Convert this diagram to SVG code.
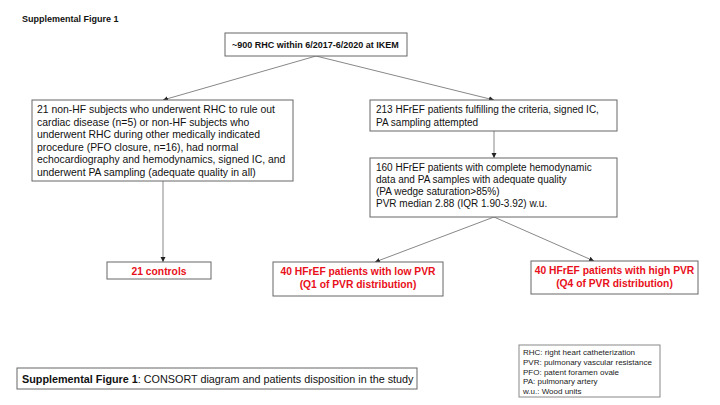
<svg xmlns="http://www.w3.org/2000/svg" width="720" height="405" viewBox="0 0 720 405">
<defs>
<style>
.box{fill:#fff;stroke:#666;stroke-width:1}
.t{font-family:"Liberation Sans",Arial,sans-serif;font-size:10px;fill:#111}
.b{font-weight:bold}
.r{font-family:"Liberation Sans",Arial,sans-serif;font-size:10.3px;font-weight:bold;fill:#e8101a;text-anchor:middle}
.s{font-family:"Liberation Sans",Arial,sans-serif;font-size:8px;fill:#222}
.c{stroke:#888;stroke-width:1;fill:none;marker-end:url(#ah)}
</style>
<marker id="ah" markerWidth="6" markerHeight="6" refX="5" refY="3" orient="auto" markerUnits="userSpaceOnUse">
<path d="M0,0.5 L5,3 L0,5.5 Z" fill="#222"/>
</marker>
</defs>
<rect width="720" height="405" fill="#fff"/>
<text x="22" y="22" class="t b" style="font-size:9px">Supplemental Figure 1</text>
<g id="connectors">
<line class="c" x1="316" y1="56" x2="163" y2="100"/>
<line class="c" x1="316" y1="56" x2="494" y2="100"/>
<line class="c" x1="494" y1="131" x2="494" y2="158"/>
<line class="c" x1="163" y1="181" x2="163" y2="262"/>
<line class="c" x1="494" y1="217" x2="375" y2="262"/>
<line class="c" x1="494" y1="217" x2="594" y2="261"/>
</g>
<g id="n_top">
<rect class="box" x="225" y="33" width="182" height="23"/>
<text x="232" y="48" class="t b" style="font-size:9px">~900 RHC within 6/2017-6/2020 at IKEM</text>
</g>
<g id="n_nonhf">
<rect class="box" x="32" y="100" width="261" height="81"/>
<text class="t" style="font-size:10.4px">
<tspan x="37" y="113">21 non-HF subjects who underwent RHC to rule out</tspan>
<tspan x="37" y="125.5">cardiac disease (n=5) or non-HF subjects who</tspan>
<tspan x="37" y="138">underwent RHC during other medically indicated</tspan>
<tspan x="37" y="150.5">procedure (PFO closure, n=16), had normal</tspan>
<tspan x="37" y="163">echocardiography and hemodynamics, signed IC, and</tspan>
<tspan x="37" y="175.5">underwent PA sampling (adequate quality in all)</tspan>
</text>
</g>
<g id="n_213">
<rect class="box" x="370" y="100" width="247" height="31"/>
<text class="t">
<tspan x="376" y="113">213 HFrEF patients fulfilling the criteria, signed IC,</tspan>
<tspan x="376" y="125.5">PA sampling attempted</tspan>
</text>
</g>
<g id="n_160">
<rect class="box" x="370" y="158" width="247" height="59"/>
<text class="t">
<tspan x="376" y="171">160 HFrEF patients with complete hemodynamic</tspan>
<tspan x="376" y="183">data and PA samples with adequate quality</tspan>
<tspan x="376" y="195">(PA wedge saturation&gt;85%)</tspan>
<tspan x="376" y="207">PVR median 2.88 (IQR 1.90-3.92) w.u.</tspan>
</text>
</g>
<g id="n_controls">
<rect class="box" x="107" y="262" width="104" height="17"/>
<text class="r" x="159" y="274.5">21 controls</text>
</g>
<g id="n_low">
<rect class="box" x="273" y="262" width="170" height="34"/>
<text class="r"><tspan x="358" y="275">40 HFrEF patients with low PVR</tspan><tspan x="358" y="288">(Q1 of PVR distribution)</tspan></text>
</g>
<g id="n_high">
<rect class="box" x="531" y="261" width="167" height="33"/>
<text class="r"><tspan x="614.5" y="274">40 HFrEF patients with high PVR</tspan><tspan x="614.5" y="287">(Q4 of PVR distribution)</tspan></text>
</g>
<g id="caption">
<rect class="box" x="17" y="368" width="400" height="21"/>
<text class="t" x="22" y="382.5" style="font-size:10.8px"><tspan class="b">Supplemental Figure 1</tspan>: CONSORT diagram and patients disposition in the study</text>
</g>
<g id="abbrev">
<rect class="box" x="519" y="345" width="141" height="52" style="stroke:#888"/>
<text class="s">
<tspan x="523" y="355">RHC: right heart catheterization</tspan>
<tspan x="523" y="364.8">PVR: pulmonary vascular resistance</tspan>
<tspan x="523" y="374.6">PFO: patent foramen ovale</tspan>
<tspan x="523" y="384.4">PA: pulmonary artery</tspan>
<tspan x="523" y="394.2">w.u.: Wood units</tspan>
</text>
</g>
</svg>
